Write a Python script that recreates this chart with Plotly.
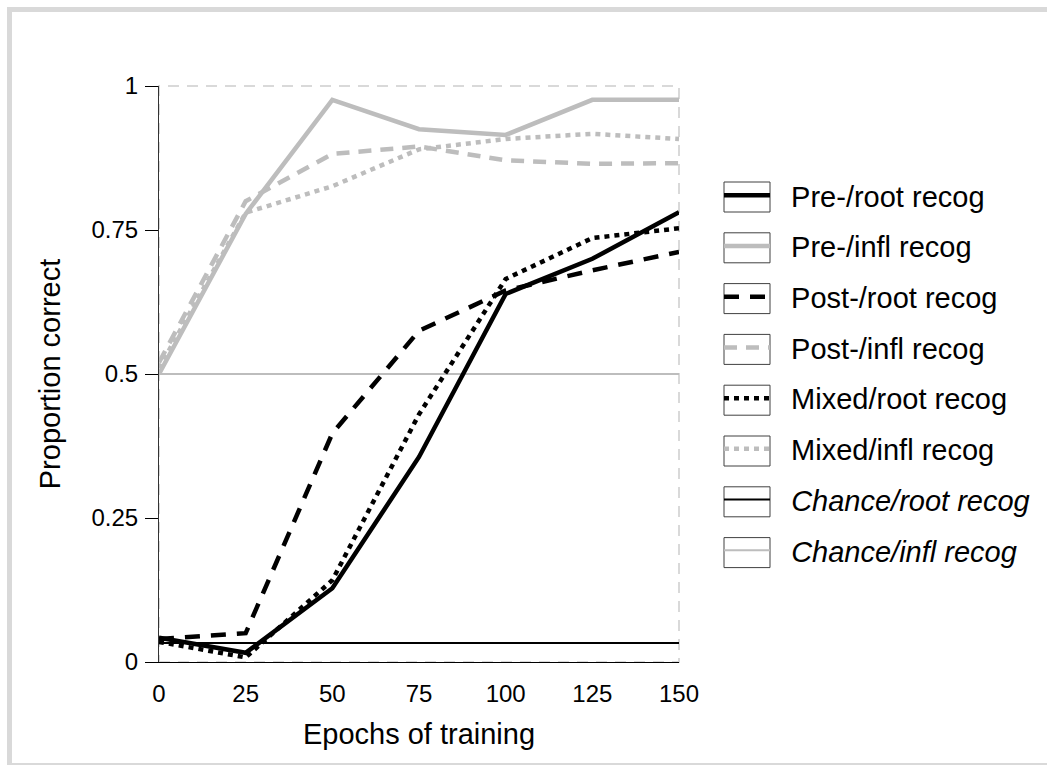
import plotly.graph_objects as go

# ---- data ----
epochs = [0, 25, 50, 75, 100, 125, 150]
pre_root = [0.042, 0.016, 0.128, 0.356, 0.639, 0.700, 0.781]
pre_infl = [0.500, 0.778, 0.976, 0.925, 0.915, 0.976, 0.976]
post_root = [0.040, 0.050, 0.397, 0.575, 0.645, 0.680, 0.712]
post_infl = [0.520, 0.800, 0.882, 0.895, 0.871, 0.865, 0.866]
mixed_root = [0.035, 0.008, 0.142, 0.430, 0.665, 0.736, 0.753]
mixed_infl = [0.510, 0.780, 0.826, 0.890, 0.908, 0.917, 0.908]
chance_x = [0, 150]
chance_root = [0.033, 0.033]
chance_infl = [0.5, 0.5]

x_ticks = [0, 25, 50, 75, 100, 125, 150]
y_ticks = [0, 0.25, 0.5, 0.75, 1]
y_tick_labels = ["0", "0.25", "0.5", "0.75", "1"]

BLACK = "#000000"
GRAY = "#bdbdbd"
FONT = "Liberation Sans, Arial, sans-serif"
PAD = "\u00a0\u00a0"

W, H = 1047, 765
L, R, T, B = 159, 368, 86, 103
PW, PH = W - L - R, H - T - B


def px(xp):
    return (xp - L) / PW


def py(yp):
    return (H - B - yp) / PH


fig = go.Figure()

# chance lines drawn first (underneath), ranked last in legend
fig.add_trace(go.Scatter(x=chance_x, y=chance_root, mode="lines",
                         name=PAD + "<i>Chance/root recog</i>", legendrank=7, legendgroup="g7",
                         line=dict(color=BLACK, width=2)))
fig.add_trace(go.Scatter(x=chance_x, y=chance_infl, mode="lines",
                         name=PAD + "<i>Chance/infl recog</i>", legendrank=8, legendgroup="g8",
                         line=dict(color=GRAY, width=2)))

series = [
    ("Pre-/root recog", pre_root, BLACK, "solid", 1),
    ("Pre-/infl recog", pre_infl, GRAY, "solid", 2),
    ("Post-/root recog", post_root, BLACK, "15px,11px", 3),
    ("Post-/infl recog", post_infl, GRAY, "13px,9px", 4),
    ("Mixed/root recog", mixed_root, BLACK, "5px,5px", 5),
    ("Mixed/infl recog", mixed_infl, GRAY, "5px,5px", 6),
]
for name, vals, col, dash, rank in series:
    fig.add_trace(go.Scatter(x=epochs, y=vals, mode="lines", name=PAD + name,
                             legendrank=rank, legendgroup="g%d" % rank,
                             line=dict(color=col, width=4.5, dash=dash)))

shapes = []
# plot-area dashed border
shapes.append(dict(type="rect", xref="paper", yref="paper", x0=0, y0=0, x1=1, y1=1,
                   line=dict(color="#d9d9d9", width=2, dash="11px,8px"), layer="below"))
# outer chart frame (left, top, bottom edges visible)
frame = dict(color="#d9d9d9", width=5)
shapes.append(dict(type="line", xref="paper", yref="paper",
                   x0=px(9.5), x1=px(9.5), y0=py(7), y1=py(768), line=frame, layer="below"))
shapes.append(dict(type="line", xref="paper", yref="paper",
                   x0=px(7), x1=px(1060), y0=py(9.5), y1=py(9.5), line=frame, layer="below"))
shapes.append(dict(type="line", xref="paper", yref="paper",
                   x0=px(7), x1=px(1060), y0=py(765.5), y1=py(765.5), line=frame, layer="below"))
# legend symbol boxes
for i in range(8):
    top = 182 + 50.8 * i
    shapes.append(dict(type="rect", xref="paper", yref="paper",
                       x0=px(724), x1=px(770), y0=py(top + 30), y1=py(top),
                       line=dict(color="#404040", width=1)))

fig.update_layout(
    width=W, height=H, autosize=False,
    margin=dict(l=L, r=R, t=T, b=B),
    paper_bgcolor="white", plot_bgcolor="white",
    font=dict(family=FONT, color="black", size=24),
    showlegend=True,
    legend=dict(x=px(719), y=py(170), xanchor="left", yanchor="top",
                font=dict(family=FONT, size=29, color="black"),
                itemwidth=46, tracegroupgap=10, bgcolor="rgba(0,0,0,0)",
                traceorder="grouped"),
    shapes=shapes,
    xaxis=dict(range=[0, 150], tickvals=x_ticks, ticktext=[str(v) for v in x_ticks],
               showgrid=False, zeroline=False, showline=True, linecolor="black",
               linewidth=1, ticks="", tickfont=dict(size=24, family=FONT),
               ticklabelstandoff=10,
               title=dict(text="Epochs of training", font=dict(size=29, family=FONT),
                          standoff=17)),
    yaxis=dict(range=[0, 1], tickvals=y_ticks, ticktext=y_tick_labels,
               showgrid=False, zeroline=False, showline=True, linecolor="#333333",
               linewidth=1, ticks="outside", ticklen=13, tickcolor="black", tickwidth=1,
               tickfont=dict(size=24, family=FONT), ticklabelstandoff=2,
               title=dict(text="Proportion correct", font=dict(size=29, family=FONT),
                          standoff=22)),
)

fig.write_html("out.html")
